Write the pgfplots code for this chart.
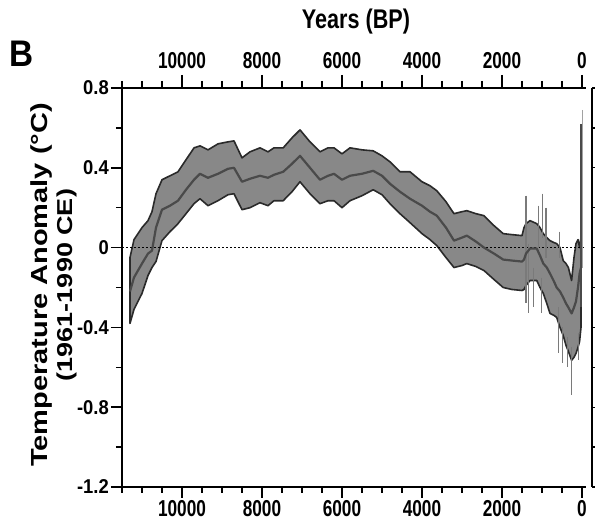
\documentclass[border=0pt]{standalone}
\usepackage{graphicx}
\usepackage{pgfplots}
\usepackage{pgfplotstable}
\pgfplotsset{compat=1.18}
\usepackage{fontspec}
\setmainfont{Liberation Sans}

\definecolor{bandfill}{HTML}{888888}
\definecolor{bandedge}{HTML}{2A2A2A}
\definecolor{midline}{HTML}{4A4A4A}
\definecolor{spike}{HTML}{7A7A7A}

\newcommand{\xl}[1]{\scalebox{0.75}[1]{#1}}
\newcommand{\yl}[1]{\scalebox{0.92}[1]{#1}}

% uncertainty band: upper bound (old -> young), then lower bound (young -> old)
\pgfplotstableread{
x     y
11300 -0.05
11200  0.04
11000  0.10
10850  0.135
10750  0.18
10650  0.27
10500  0.34
10300  0.36
10100  0.38
9900   0.44
9700   0.50
9550   0.51
9350   0.49
9100   0.52
8850   0.53
8700   0.535
8500   0.45
8300   0.48
8050   0.50
7850   0.48
7700   0.50
7470   0.50
7250   0.55
7050   0.59
6800   0.53
6550   0.48
6350   0.50
6200   0.50
6000   0.47
5800   0.50
5500   0.49
5220   0.485
5000   0.46
4800   0.43
4550   0.38
4300   0.38
4000   0.33
3800   0.31
3630   0.285
3400   0.23
3200   0.17
3000   0.18
2880   0.185
2650   0.17
2450   0.16
2200   0.11
1970   0.07
1750   0.065
1500   0.06
1450   0.10
1400   0.12
1300   0.135
1130   0.12
1050   0.10
967    0.07
880    0.05
800    0.035
700    0.025
633    0.02
550    0.00
470   -0.065
400   -0.08
340   -0.10
260   -0.165
200   -0.05
150    0.02
100    0.04
60     0.00
25     0.05
25    -0.40
60    -0.47
100   -0.50
150   -0.53
200   -0.55
260   -0.565
340   -0.52
400   -0.49
470   -0.44
550   -0.40
633   -0.35
700   -0.34
800   -0.33
880   -0.28
967   -0.23
1050  -0.20
1130  -0.165
1300  -0.165
1400  -0.19
1450  -0.21
1500  -0.215
1750  -0.21
1970  -0.20
2200  -0.16
2450  -0.115
2650  -0.095
2880  -0.08
3000  -0.09
3200  -0.10
3400  -0.05
3630   0.01
3800   0.04
4000   0.07
4300   0.125
4550   0.17
4800   0.22
5000   0.265
5220   0.29
5500   0.26
5800   0.235
6000   0.20
6200   0.235
6350   0.235
6550   0.22
6800   0.27
7050   0.33
7250   0.28
7470   0.235
7700   0.235
7850   0.21
8050   0.225
8300   0.20
8500   0.19
8700   0.27
8850   0.265
9100   0.235
9350   0.21
9550   0.245
9700   0.22
9900   0.17
10100  0.12
10300  0.08
10500  0.035
10650 -0.07
10750 -0.10
10850 -0.14
11000 -0.23
11200 -0.31
11300 -0.38
}\banddata

% mean reconstruction
\pgfplotstableread{
x     y
11300 -0.22
11200 -0.15
11000 -0.08
10850 -0.03
10750 -0.015
10650  0.10
10500  0.19
10300  0.21
10100  0.235
9900   0.29
9700   0.34
9550   0.37
9350   0.35
9100   0.37
8850   0.395
8700   0.40
8500   0.33
8300   0.345
8050   0.36
7850   0.35
7700   0.365
7470   0.38
7250   0.42
7050   0.46
6800   0.40
6550   0.34
6350   0.36
6200   0.37
6000   0.34
5800   0.36
5500   0.37
5220   0.385
5000   0.36
4800   0.32
4550   0.28
4300   0.245
4000   0.21
3800   0.18
3630   0.16
3400   0.10
3200   0.035
3000   0.05
2880   0.06
2650   0.03
2450   0.00
2200  -0.03
1970  -0.06
1750  -0.065
1500  -0.07
1450  -0.06
1400  -0.03
1300  -0.005
1130  -0.005
1050  -0.04
967   -0.08
880   -0.10
800   -0.13
700   -0.17
633   -0.20
550   -0.22
470   -0.25
400   -0.28
340   -0.30
260   -0.33
200   -0.30
150   -0.27
100   -0.20
60    -0.13
25    -0.10
}\meandata

\pgfplotsset{
  panel/.style={
    at={(0pt,0pt)}, anchor=south west,
    scale only axis, width=464pt, height=399pt,
    x dir=reverse, xmin=-100, xmax=11500, ymin=-1.2, ymax=0.8,
    scaled x ticks=false, scaled y ticks=false,
    xtick={0,2000,4000,6000,8000,10000},
    xticklabels={\xl{0},\xl{2000},\xl{4000},\xl{6000},\xl{8000},\xl{10000}},
    minor xtick={500,1000,...,11500},
    axis line style={line width=1.6pt},
    major tick length=11pt, minor tick length=6pt,
    every major tick/.append style={line width=1.6pt, black},
    every minor tick/.append style={line width=1.3pt, black},
    xticklabel style={font=\bfseries\fontsize{23}{23}\selectfont, inner sep=2pt},
    yticklabel style={font=\bfseries\fontsize{20}{20}\selectfont, inner sep=2pt},
  },
  spk/.style={spike, line width=1.1pt},
}

\begin{document}
\begin{tikzpicture}
\useasboundingbox (-122pt,-45pt) rectangle (473pt,487pt);
\begin{axis}[panel,
  axis x line*=bottom, axis y line*=left, tick align=outside,
  ytick={-1.2,-0.8,-0.4,0,0.4,0.8},
  yticklabels={\yl{-1.2},\yl{-0.8},\yl{-0.4},\yl{0},\yl{0.4},\yl{0.8}},
  minor ytick={-1.0,-0.6,-0.2,0.2,0.6}]
  \addplot[fill=bandfill, draw=bandedge, line width=1.6pt, line join=round] table[x=x, y=y] {\banddata} -- cycle;
  \addplot[black, line width=0.9pt, dash pattern=on 1.6pt off 2.4pt] coordinates {(11500,0) (-100,0)};
  \addplot[spk] coordinates {(1400,0.26) (1400,-0.28)};
  \addplot[spk] coordinates {(1330,0.02) (1330,-0.33)};
  \addplot[spk] coordinates {(1217,-0.10) (1217,-0.30)};
  \addplot[spk] coordinates {(1092,0.21) (1092,0.0)};
  \addplot[spk] coordinates {(983,0.27) (983,0.05)};
  \addplot[spk] coordinates {(1008,-0.15) (1008,-0.33)};
  \addplot[spk] coordinates {(900,0.20) (900,-0.05)};
  \addplot[spk] coordinates {(567,0.08) (567,-0.05)};
  \addplot[spk] coordinates {(592,-0.30) (592,-0.53)};
  \addplot[spk] coordinates {(483,-0.40) (483,-0.58)};
  \addplot[spk] coordinates {(367,-0.45) (367,-0.60)};
  \addplot[spk] coordinates {(258,-0.50) (258,-0.74)};
  \addplot[spk] coordinates {(92,-0.43) (92,-0.565)};
  \addplot[midline, line width=2.2pt, line join=round] table[x=x, y=y] {\meandata};
  \addplot[midline, line width=2.2pt] coordinates {(20,0.62) (20,-0.30)};
  \addplot[spike!70, line width=1.4pt] coordinates {(-15,0.69) (-15,-0.10)};
\end{axis}
\begin{axis}[panel,
  axis x line*=top, axis y line=none, tick align=outside,
  major tick length=13pt, minor tick length=7pt,
  xticklabel shift=4pt,
  ytick=\empty]
  \addplot[draw=none] coordinates {(5000,0)};
\end{axis}
% edge of the neighbouring panel
\draw[line width=1.6pt] (470pt,0pt) -- (470pt,399pt);
\foreach \k in {0,...,10} \draw[line width=1.3pt] (470pt,{\k*39.9pt}) -- ++(6pt,0pt);
\node[font=\bfseries\fontsize{27}{27}\selectfont] at (234pt,465pt) {\scalebox{0.8}[1]{Years (BP)}};
\node[font=\bfseries\fontsize{37}{37}\selectfont] at (-100pt,433pt) {\scalebox{0.9}[1]{B}};
\node[rotate=90, font=\bfseries\fontsize{29}{29}\selectfont] at (-80pt,202pt) {\scalebox{1}[0.8]{Temperature Anomaly (°C)}};
\node[rotate=90, font=\bfseries\fontsize{27}{27}\selectfont] at (-55pt,202pt) {\scalebox{1}[0.8]{(1961-1990 CE)}};
\end{tikzpicture}
\end{document}
